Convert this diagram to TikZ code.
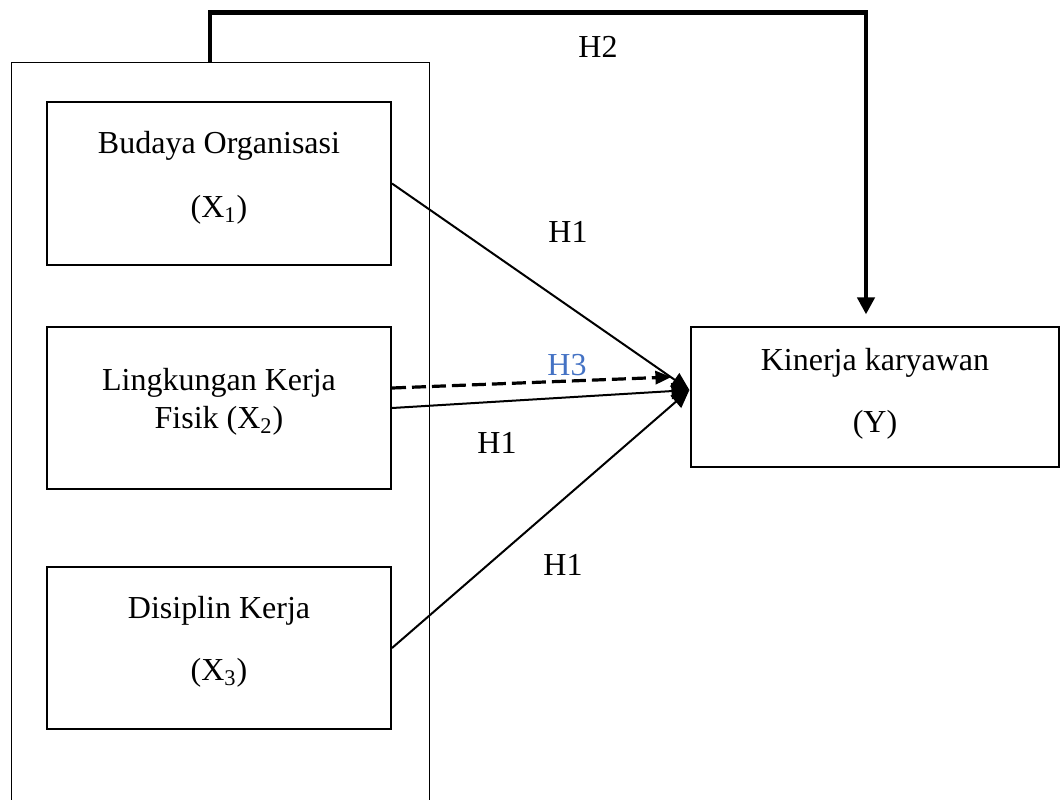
\documentclass[tikz,border=0pt]{standalone}
\usepackage{fontspec}
\setmainfont{Liberation Serif}
\usetikzlibrary{arrows.meta,calc}
\definecolor{hblue}{RGB}{68,114,196}
\begin{document}
\begin{tikzpicture}[x=0.5pt,y=-0.5pt,
  every node/.style={font=\fontsize{16}{19}\selectfont},
  txt/.style={inner sep=0pt,text height=10.6pt,text depth=0pt},
  varbox/.style={draw,line width=1pt,minimum width=172pt,minimum height=81pt,inner sep=0pt},
  outerbox/.style={draw,line width=0.5pt,minimum width=209pt,minimum height=400pt,inner sep=0pt},
  ybox/.style={draw,line width=0.6pt,minimum width=184pt,minimum height=70pt,inner sep=0pt},
  link/.style={line width=1pt,-{Triangle[length=9pt,width=8pt]}},
  dlink/.style={line width=1.6pt,dash pattern=on 7pt off 3pt,-{Triangle[length=8pt,width=6.5pt]}},
  h2link/.style={line width=2.2pt,-{Triangle[length=8.5pt,width=8.5pt]}}
]
\useasboundingbox (0,0) rectangle (1064,799);
\begin{scope}
\clip (0,0) rectangle (1064,799);
\node[outerbox] (outer) at (220,462) {};
\end{scope}
\node[varbox,minimum height=81.5pt] (b1) at (219,183.5) {};
\node[varbox] (b2) at (219,408) {};
\node[varbox] (b3) at (219,648) {};
\node[ybox] (K) at (875,397) {};

\node[txt] (t1a) at (219,143) {Budaya Organisasi};
\node[txt] (t1b) at (219,207) {(X\textsubscript{1})};
\node[txt] (t2a) at (219,380) {Lingkungan Kerja};
\node[txt] (t2b) at (219,418) {Fisik (X\textsubscript{2})};
\node[txt] (t3a) at (219,608) {Disiplin Kerja};
\node[txt] (t3b) at (219,670) {(X\textsubscript{3})};
\node[txt] (tya) at (875,360) {Kinerja karyawan};
\node[txt] (tyb) at (875,422) {(Y)};

\coordinate (tip) at ($(K.west)+(-1,-7)$);
\coordinate (dtip) at ($(K.west)+(-19,-20)$);
\coordinate (dstart) at ($(b2.east)+(0,-20)$);
\coordinate (h2s) at ($(outer.north)+(-10,0)$);
\coordinate (h2e) at ($(K.north)+(-9,-12)$);

\draw[link] (b1.east) -- (tip);
\draw[link] (b2.east) -- (tip);
\draw[link] (b3.east) -- (tip);
\draw[dlink] (dstart) -- (dtip);
\draw[h2link] (h2s) -- ++(0,-49) -| (h2e);

\node[txt] (lh2) at (598,47) {H2};
\node[txt] (lh1a) at (568,232) {H1};
\node[txt,text=hblue] (lh3) at (567,365) {H3};
\node[txt] (lh1b) at (497,443) {H1};
\node[txt] (lh1c) at (563,565) {H1};
\end{tikzpicture}
\end{document}
